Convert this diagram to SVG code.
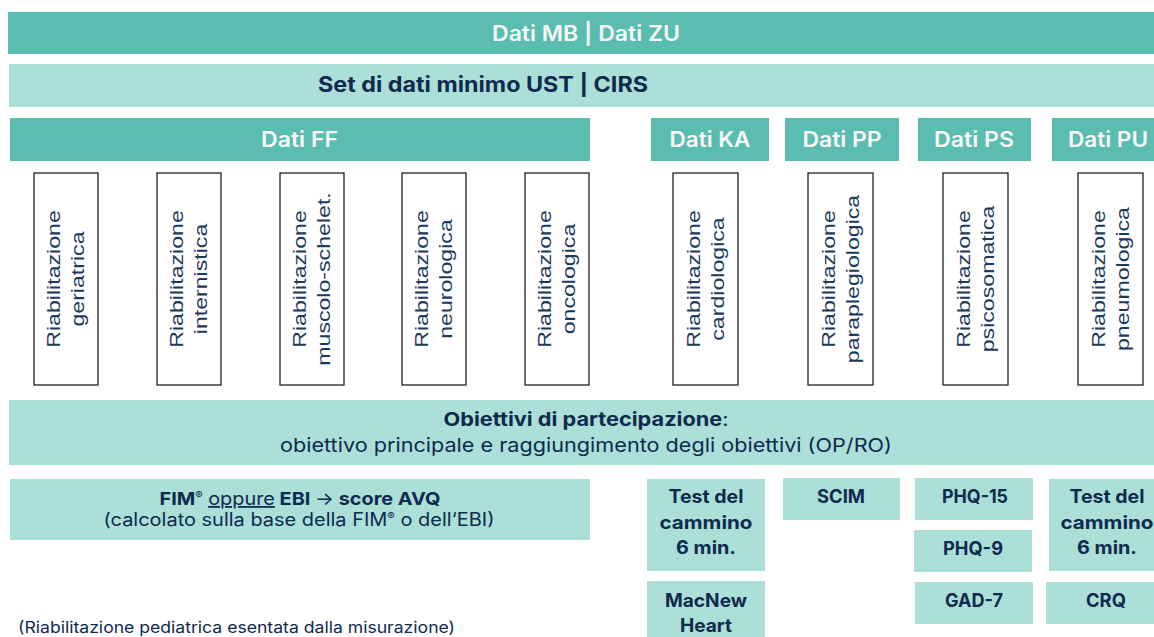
<svg xmlns="http://www.w3.org/2000/svg" width="1154" height="637" viewBox="0 0 1154 637">
<style>
.dark{fill:#5bbdaf}
.light{fill:#acdfd8}
.wt{fill:#f7f7f7;font-family:Inter,"Open Sans","Liberation Sans",sans-serif;font-weight:600;text-anchor:middle}
.nv{fill:#0e2a4d;font-family:Inter,"Open Sans","Liberation Sans",sans-serif;text-anchor:middle}
.b{font-weight:700}
.r{font-weight:400}
.box{fill:#ffffff;stroke:#222222;stroke-width:1.3}
.rt{fill:#1b3a5c;font-family:"Liberation Sans",Arial,sans-serif;font-size:18.5px;text-anchor:middle}
</style>
<rect width="1154" height="637" fill="#ffffff"/>
<g id="connectors"></g>
<g id="dati-mb-zu">
<rect class="dark" x="8" y="12" width="1146" height="42"/>
<text class="wt" x="586" y="40.5" font-size="21" textLength="188" lengthAdjust="spacingAndGlyphs">Dati MB | Dati ZU</text>
</g>
<g id="set-minimo">
<rect class="light" x="9" y="64" width="1145" height="43"/>
<text class="nv b" x="483" y="91.5" font-size="21" textLength="330" lengthAdjust="spacingAndGlyphs">Set di dati minimo UST | CIRS</text>
</g>
<g id="dati-ff">
<rect class="dark" x="10" y="118" width="580" height="43"/>
<text class="wt" x="299.5" y="146.5" font-size="21" textLength="77" lengthAdjust="spacingAndGlyphs">Dati FF</text>
</g>
<g id="dati-ka">
<rect class="dark" x="651" y="118" width="118" height="43"/>
<text class="wt" x="710" y="146.5" font-size="21" textLength="81" lengthAdjust="spacingAndGlyphs">Dati KA</text>
</g>
<g id="dati-pp">
<rect class="dark" x="785" y="118" width="114" height="43"/>
<text class="wt" x="842" y="146.5" font-size="21" textLength="79" lengthAdjust="spacingAndGlyphs">Dati PP</text>
</g>
<g id="dati-ps">
<rect class="dark" x="918" y="118" width="113" height="43"/>
<text class="wt" x="974" y="146.5" font-size="21" textLength="80" lengthAdjust="spacingAndGlyphs">Dati PS</text>
</g>
<g id="dati-pu">
<rect class="dark" x="1052" y="118" width="114" height="43"/>
<text class="wt" x="1108" y="146.5" font-size="21" textLength="80" lengthAdjust="spacingAndGlyphs">Dati PU</text>
</g>

<g id="riab-geriatrica">
<rect class="box" x="34" y="173" width="64" height="212"/>
<g transform="translate(66,279) rotate(-90) scale(1.25,1)"><text class="rt" y="-6">Riabilitazione</text><text class="rt" y="18.5">geriatrica</text></g>
</g>
<g id="riab-internistica">
<rect class="box" x="157" y="173" width="64" height="212"/>
<g transform="translate(189,279) rotate(-90) scale(1.25,1)"><text class="rt" y="-6">Riabilitazione</text><text class="rt" y="18.5">internistica</text></g>
</g>
<g id="riab-muscolo">
<rect class="box" x="280" y="173" width="64" height="212"/>
<g transform="translate(312,279) rotate(-90) scale(1.25,1)"><text class="rt" y="-6">Riabilitazione</text><text class="rt" y="18.5">muscolo-schelet.</text></g>
</g>
<g id="riab-neurologica">
<rect class="box" x="402" y="173" width="64" height="212"/>
<g transform="translate(434,279) rotate(-90) scale(1.25,1)"><text class="rt" y="-6">Riabilitazione</text><text class="rt" y="18.5">neurologica</text></g>
</g>
<g id="riab-oncologica">
<rect class="box" x="525" y="173" width="64" height="212"/>
<g transform="translate(557,279) rotate(-90) scale(1.25,1)"><text class="rt" y="-6">Riabilitazione</text><text class="rt" y="18.5">oncologica</text></g>
</g>
<g id="riab-cardiologica">
<rect class="box" x="673" y="173" width="65" height="212"/>
<g transform="translate(705.5,279) rotate(-90) scale(1.25,1)"><text class="rt" y="-6">Riabilitazione</text><text class="rt" y="18.5">cardiologica</text></g>
</g>
<g id="riab-paraplegiologica">
<rect class="box" x="808" y="173" width="65" height="212"/>
<g transform="translate(840.5,279) rotate(-90) scale(1.25,1)"><text class="rt" y="-6">Riabilitazione</text><text class="rt" y="18.5">paraplegiologica</text></g>
</g>
<g id="riab-psicosomatica">
<rect class="box" x="943" y="173" width="65" height="212"/>
<g transform="translate(975.5,279) rotate(-90) scale(1.25,1)"><text class="rt" y="-6">Riabilitazione</text><text class="rt" y="18.5">psicosomatica</text></g>
</g>
<g id="riab-pneumologica">
<rect class="box" x="1078" y="173" width="65" height="212"/>
<g transform="translate(1110.5,279) rotate(-90) scale(1.25,1)"><text class="rt" y="-6">Riabilitazione</text><text class="rt" y="18.5">pneumologica</text></g>
</g>

<g id="obiettivi">
<rect class="light" x="9" y="400" width="1145" height="65"/>
<text class="nv" x="586" y="426" font-size="19" textLength="285" lengthAdjust="spacingAndGlyphs"><tspan class="b">Obiettivi di partecipazione</tspan><tspan class="r">:</tspan></text>
<text class="nv r" x="586" y="452" font-size="19" textLength="612" lengthAdjust="spacingAndGlyphs">obiettivo principale e raggiungimento degli obiettivi (OP/RO)</text>
</g>
<g id="fim-ebi">
<rect class="light" x="10" y="479" width="580" height="61"/>
<text class="nv" x="300" y="505" font-size="18" textLength="281" lengthAdjust="spacingAndGlyphs"><tspan class="b">FIM</tspan><tspan class="r" font-size="10" dy="-6">®</tspan><tspan class="r" dy="6"> </tspan><tspan class="r" text-decoration="underline">oppure</tspan><tspan class="b"> EBI </tspan><tspan class="r">→</tspan><tspan class="b"> score AVQ</tspan></text>
<text class="nv r" x="299" y="526" font-size="18" textLength="391" lengthAdjust="spacingAndGlyphs">(calcolato sulla base della FIM<tspan font-size="10" dy="-6">®</tspan><tspan dy="6"> o dell‘EBI)</tspan></text>
</g>
<g id="test-cammino-ka">
<rect class="light" x="647" y="479" width="118" height="92"/>
<text class="nv b" x="706" y="503" font-size="18.5" textLength="75" lengthAdjust="spacingAndGlyphs">Test del</text>
<text class="nv b" x="706" y="529" font-size="18.5" textLength="93" lengthAdjust="spacingAndGlyphs">cammino</text>
<text class="nv b" x="706" y="554" font-size="18.5" textLength="60" lengthAdjust="spacingAndGlyphs">6 min.</text>
</g>
<g id="macnew">
<rect class="light" x="647" y="581" width="118" height="60"/>
<text class="nv b" x="706" y="607" font-size="18.5" textLength="82" lengthAdjust="spacingAndGlyphs">MacNew</text>
<text class="nv b" x="706" y="632" font-size="18.5" textLength="52" lengthAdjust="spacingAndGlyphs">Heart</text>
</g>
<g id="scim">
<rect class="light" x="783" y="478" width="117" height="42"/>
<text class="nv b" x="841" y="503" font-size="18.5" textLength="48" lengthAdjust="spacingAndGlyphs">SCIM</text>
</g>
<g id="phq15">
<rect class="light" x="915" y="478" width="118" height="42"/>
<text class="nv b" x="975" y="503" font-size="18.5" textLength="66" lengthAdjust="spacingAndGlyphs">PHQ-15</text>
</g>
<g id="phq9">
<rect class="light" x="914" y="530" width="118" height="42"/>
<text class="nv b" x="973" y="555" font-size="18.5" textLength="60" lengthAdjust="spacingAndGlyphs">PHQ-9</text>
</g>
<g id="gad7">
<rect class="light" x="915" y="582" width="118" height="42"/>
<text class="nv b" x="974" y="607" font-size="18.5" textLength="58" lengthAdjust="spacingAndGlyphs">GAD-7</text>
</g>
<g id="test-cammino-pu">
<rect class="light" x="1049" y="479" width="118" height="92"/>
<text class="nv b" x="1107" y="503" font-size="18.5" textLength="75" lengthAdjust="spacingAndGlyphs">Test del</text>
<text class="nv b" x="1107" y="529" font-size="18.5" textLength="93" lengthAdjust="spacingAndGlyphs">cammino</text>
<text class="nv b" x="1107" y="554" font-size="18.5" textLength="60" lengthAdjust="spacingAndGlyphs">6 min.</text>
</g>
<g id="crq">
<rect class="light" x="1046" y="582" width="118" height="42"/>
<text class="nv b" x="1106" y="607" font-size="18.5" textLength="40" lengthAdjust="spacingAndGlyphs">CRQ</text>
</g>
<g id="nota">
<text class="nv r" x="18" y="633" font-size="16" style="text-anchor:start" textLength="437" lengthAdjust="spacingAndGlyphs">(Riabilitazione pediatrica esentata dalla misurazione)</text>
</g>
</svg>
